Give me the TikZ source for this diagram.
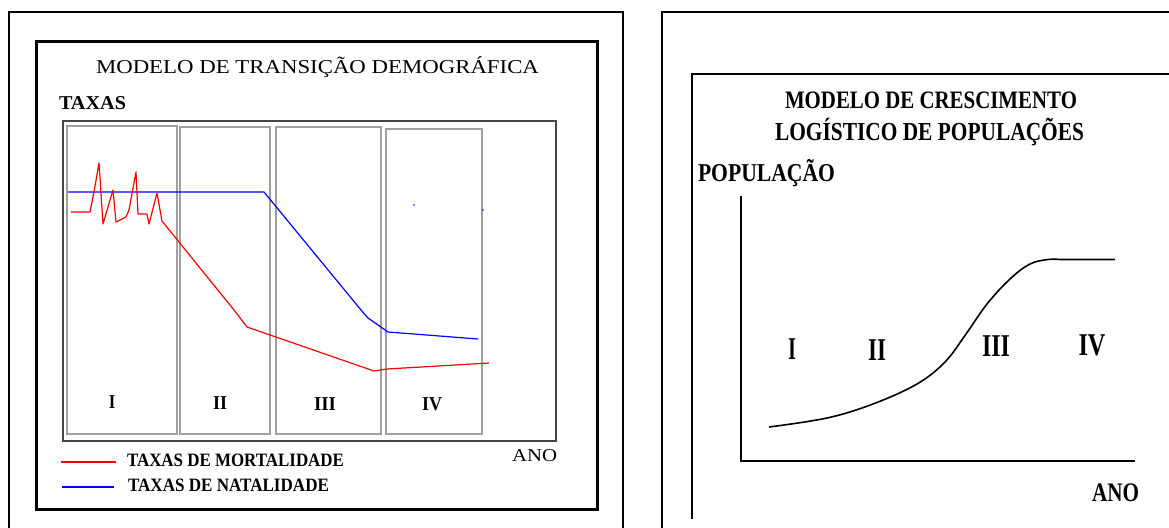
\documentclass[tikz,border=0pt]{standalone}
\usepackage{fontspec}
\setmainfont{Liberation Serif}
\usepackage{graphicx}
\newlength\fitlen
% #1 weight switch, #2 target width (px), #3 cap height (px), #4 text
\newcommand\fitto[4]{%
  \pgfmathsetmacro\fitfs{#3/0.662}%
  \fontsize{\fitfs pt}{\fitfs pt}\selectfont#1%
  \settowidth\fitlen{#4}%
  \pgfmathsetmacro\fitsc{#2/\fitlen}%
  \scalebox{\fitsc}[1]{#4}}
\definecolor{plotgray}{RGB}{70,70,70}
\definecolor{stagegray}{RGB}{160,160,160}
\begin{document}
\begin{tikzpicture}[x=1pt,y=-1pt,
  frame/.style={line width=2pt,black},
  thickframe/.style={line width=3pt,black},
  plotbox/.style={draw=plotgray,line width=1.6pt},
  stagebox/.style={draw=stagegray,line width=1.5pt},
  mort/.style={red,line width=1.2pt,line join=round},
  nat/.style={blue,line width=1.2pt,line join=round},
  lbl/.style={inner sep=0pt,outer sep=0pt,anchor=base west},
  clbl/.style={inner sep=0pt,outer sep=0pt,anchor=base}]
\fill[white] (0,0) rectangle (1169,527);
\useasboundingbox (0,0) rectangle (1169,527);

% ---------- left panel ----------
\draw[frame] (9,530) -- (9,12) -- (623,12) -- (623,530);
\draw[thickframe] (36,42) rectangle (597,509);
\draw[plotbox] (63,121) rectangle (556,441);
\draw[stagebox] (67,126) rectangle (177,434);
\draw[stagebox] (180,127) rectangle (270,434);
\draw[stagebox] (276,127) rectangle (381,434);
\draw[stagebox] (386,129) rectangle (482,434);

\node[lbl] (ltitle) at (96,74) {\fitto{\mdseries}{443}{13}{MODELO DE TRANSIÇÃO DEMOGRÁFICA}};
\node[lbl] (taxas) at (59,109) {\fitto{\bfseries}{67}{13}{TAXAS}};

\node[clbl] (s1) at (112,408) {\fitto{\bfseries}{6.5}{13}{I}};
\node[clbl] (s2) at (220,409) {\fitto{\bfseries}{14}{13}{II}};
\node[clbl] (s3) at (325,410) {\fitto{\bfseries}{22}{13}{III}};
\node[clbl] (s4) at (432,410) {\fitto{\bfseries}{20}{13}{IV}};

% birth rate
\draw[nat] (68,192) -- (264,192) -- (361,310) -- (368,318) -- (388,332) -- (478,339);
\fill[blue] (414,205) circle (0.9);
\fill[blue] (483,210) circle (0.9);
% death rate
\draw[mort] (71,212) -- (90,212) -- (94,192) -- (99,163) -- (100,178) -- (103,224)
  -- (113,190) -- (116,222) -- (126,217) -- (129,210) -- (136,172) -- (138,214)
  -- (147,214) -- (149,224) -- (157,193) -- (162,221) -- (234,310) -- (247,327)
  -- (374,371) -- (387,369) -- (489,363);

% legend
\draw[red,line width=1.2pt] (61,462) -- (116,462);
\node[lbl] (lmort) at (127,466) {\fitto{\bfseries}{217}{12.5}{TAXAS DE MORTALIDADE}};
\draw[blue,line width=1.2pt] (62,487) -- (114,487);
\node[lbl] (lnat) at (128,491) {\fitto{\bfseries}{201}{12.5}{TAXAS DE NATALIDADE}};
\node[lbl] (lano) at (512,461) {\fitto{\mdseries}{45}{12}{ANO}};

% ---------- right panel ----------
\draw[frame] (662,530) -- (662,12) -- (1172,12);
\draw[frame] (692,519) -- (692,74) -- (1172,74);

\node[lbl] (rt1) at (785,108) {\fitto{\bfseries}{292}{16.6}{MODELO DE CRESCIMENTO}};
\node[lbl] (rt2) at (775,140) {\fitto{\bfseries}{309}{17.2}{LOGÍSTICO DE POPULAÇÕES}};
\node[lbl] (pop) at (698,181) {\fitto{\bfseries}{137}{17}{POPULAÇÃO}};

\draw[line width=2pt] (741,196) -- (741,461) -- (1135,461);

\draw[line width=1.6pt] plot[smooth,tension=0.6] coordinates {
  (769,427) (827,418) (873,404) (917,384) (945,362) (966,334)
  (987,304) (1010,279) (1030,264) (1048,259.5) (1060,259.5)} -- (1115,259.5);

\node[clbl] (r1) at (792,359) {\fitto{\bfseries}{8}{21}{I}};
\node[clbl] (r2) at (877,360) {\fitto{\bfseries}{18}{21}{II}};
\node[clbl] (r3) at (996,356) {\fitto{\bfseries}{28}{21}{III}};
\node[clbl] (r4) at (1092,355) {\fitto{\bfseries}{27}{21}{IV}};
\node[lbl] (rano) at (1092,501) {\fitto{\bfseries}{47}{17.7}{ANO}};
\end{tikzpicture}
\end{document}
